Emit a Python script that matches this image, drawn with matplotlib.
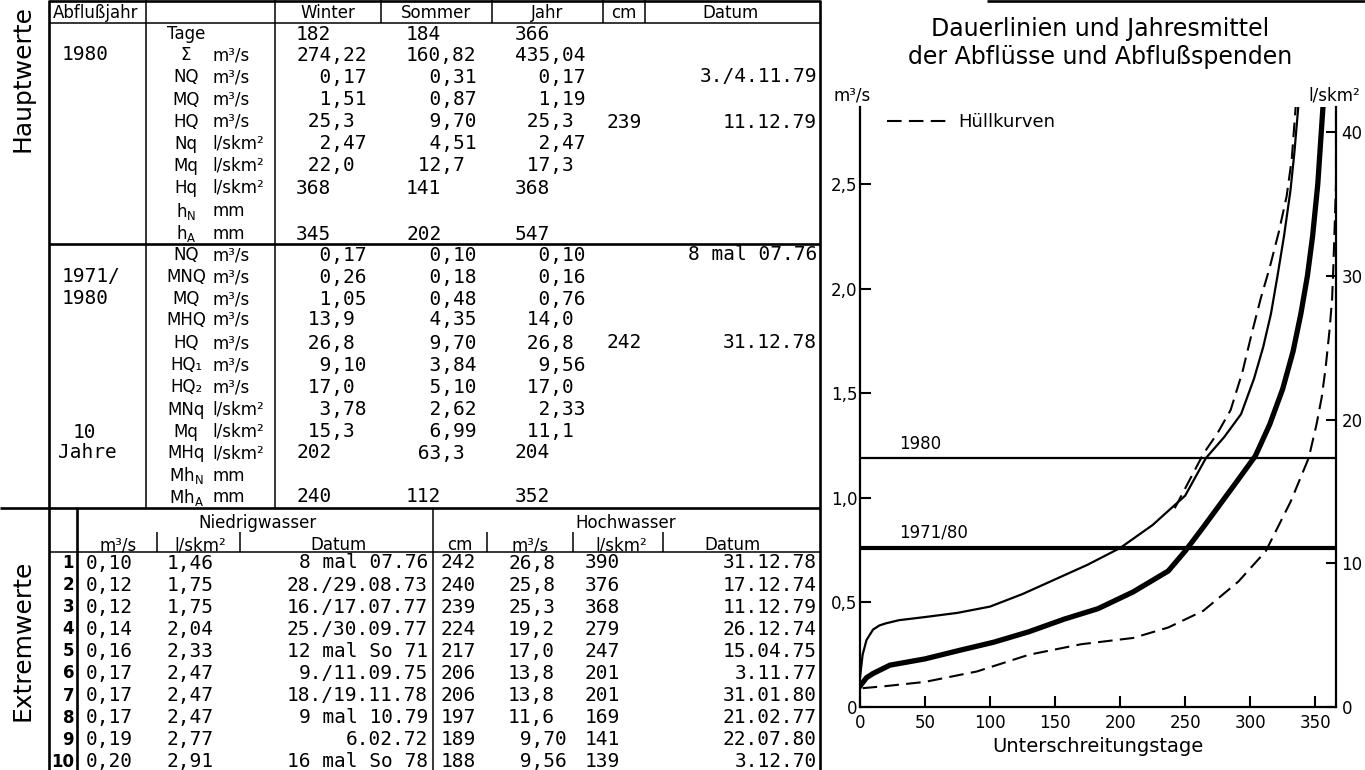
"""
Abflusstafel 1980 mit Hauptwerten, Extremwerten und Dauerlinien
(links Tabelle, rechts Dauerlinien und Jahresmittel der Abflüsse)
"""
import matplotlib
matplotlib.use('Agg')
import matplotlib.pyplot as plt
from matplotlib.lines import Line2D
from matplotlib.ticker import FuncFormatter

plt.rcParams['font.family'] = ['DejaVu Sans']
plt.rcParams['mathtext.fontset'] = 'dejavusans'
MONO = 'DejaVu Sans Mono'
MONO_SIZE = 14

# ---------------- Hauptwerte Abflußjahr 1980 ----------------
LABELS_1980 = ['Tage', 'Σ', 'NQ', 'MQ', 'HQ', 'Nq', 'Mq', 'Hq',
               r'h$_\mathregular{N}$', r'h$_\mathregular{A}$']
UNITS_1980 = ['', 'm³/s', 'm³/s', 'm³/s', 'm³/s',
              'l/skm²', 'l/skm²', 'l/skm²', 'mm', 'mm']
WINTER_1980 = ['182', '274,22', '0,17', '1,51', '25,3', '2,47', '22,0', '368', '', '345']
SOMMER_1980 = ['184', '160,82', '0,31', '0,87', '9,70', '4,51', '12,7', '141', '', '202']
JAHR_1980 = ['366', '435,04', '0,17', '1,19', '25,3', '2,47', '17,3', '368', '', '547']
CM_1980 = ['', '', '', '', '239', '', '', '', '', '']
DATUM_1980 = ['', '', '3./4.11.79', '', '11.12.79', '', '', '', '', '']

# ---------------- Hauptwerte 1971/1980 (10 Jahre) ----------------
LABELS_10J = ['NQ', 'MNQ', 'MQ', 'MHQ', 'HQ', 'HQ₁', 'HQ₂', 'MNq', 'Mq', 'MHq',
              r'Mh$_\mathregular{N}$', r'Mh$_\mathregular{A}$']
UNITS_10J = ['m³/s'] * 7 + ['l/skm²'] * 3 + ['mm', 'mm']
WINTER_10J = ['0,17', '0,26', '1,05', '13,9', '26,8', '9,10', '17,0', '3,78', '15,3', '202', '', '240']
SOMMER_10J = ['0,10', '0,18', '0,48', '4,35', '9,70', '3,84', '5,10', '2,62', '6,99', '63,3', '', '112']
JAHR_10J = ['0,10', '0,16', '0,76', '14,0', '26,8', '9,56', '17,0', '2,33', '11,1', '204', '', '352']
CM_10J = ['', '', '', '', '242', '', '', '', '', '', '', '']
DATUM_10J = ['8 mal 07.76', '', '', '', '31.12.78', '', '', '', '', '', '', '']

# ---------------- Extremwerte ----------------
RANG = ['1', '2', '3', '4', '5', '6', '7', '8', '9', '10']
NW_Q = ['0,10', '0,12', '0,12', '0,14', '0,16', '0,17', '0,17', '0,17', '0,19', '0,20']
NW_QSP = ['1,46', '1,75', '1,75', '2,04', '2,33', '2,47', '2,47', '2,47', '2,77', '2,91']
NW_DATUM = ['8 mal 07.76', '28./29.08.73', '16./17.07.77', '25./30.09.77', '12 mal So 71',
            '9./11.09.75', '18./19.11.78', '9 mal 10.79', '6.02.72', '16 mal So 78']
HW_CM = ['242', '240', '239', '224', '217', '206', '206', '197', '189', '188']
HW_Q = ['26,8', '25,8', '25,3', '19,2', '17,0', '13,8', '13,8', '11,6', '9,70', '9,56']
HW_QSP = ['390', '376', '368', '279', '247', '201', '201', '169', '141', '139']
HW_DATUM = ['31.12.78', '17.12.74', '11.12.79', '26.12.74', '15.04.75',
            '3.11.77', '31.01.80', '21.02.77', '22.07.80', '3.12.70']

# ---------------- Dauerlinien (Unterschreitungstage -> m³/s) ----------------
TAGE_1980 = [0, 2, 5, 10, 15, 20, 30, 50, 75, 100, 125, 150, 175, 200, 225, 250,
             266, 280, 293, 303, 310, 316, 321, 326, 331, 334, 337]
Q_1980 = [0.14, 0.25, 0.32, 0.37, 0.39, 0.40, 0.415, 0.43, 0.45, 0.48, 0.54, 0.61,
          0.68, 0.76, 0.87, 1.01, 1.19, 1.29, 1.40, 1.57, 1.72, 1.88, 2.06, 2.25,
          2.47, 2.65, 2.87]
TAGE_7180 = [0, 5, 10, 23, 50, 76, 103, 130, 157, 183, 210, 237, 250, 264, 277,
             290, 304, 315, 325, 333, 339, 344, 348, 352, 356]
Q_7180 = [0.10, 0.14, 0.16, 0.20, 0.23, 0.27, 0.31, 0.36, 0.42, 0.47, 0.55, 0.65,
          0.745, 0.86, 0.97, 1.08, 1.20, 1.35, 1.52, 1.70, 1.88, 2.06, 2.25,
          2.50, 2.87]
TAGE_HUELLE_U = [2, 20, 50, 90, 130, 170, 210, 237, 264, 291, 312, 331, 345, 351,
                 355, 358, 361, 363, 364, 365, 366, 366]
Q_HUELLE_U = [0.09, 0.10, 0.12, 0.17, 0.25, 0.30, 0.33, 0.38, 0.46, 0.60, 0.745,
              0.98, 1.19, 1.35, 1.48, 1.62, 1.80, 1.95, 2.11, 2.30, 2.50, 2.85]
TAGE_HUELLE_O = [242, 253, 264, 275, 285, 294, 301, 308, 315, 322, 328, 332, 335]
Q_HUELLE_O = [0.95, 1.08, 1.21, 1.31, 1.42, 1.60, 1.78, 1.95, 2.10, 2.27, 2.44,
              2.62, 2.87]

MQ_1980 = 1.19      # Jahresmittel 1980
MQ_1971_80 = 0.76   # Mittel 1971/80
FLAECHE_KM2 = 68.7  # Einzugsgebiet für l/skm²

W, H = 1365, 770


def dec(s, width=3):
    """Zahl mit Komma für Monospace-Satz ausrichten."""
    head, sep, tail = s.partition(',')
    return head.rjust(width) + sep + tail if s else ''


def draw_rules(t):
    lo, li = 1.9, 1.1

    def hl(y, x0, x1, lw):
        t.plot([x0, x1], [y, y], color='k', lw=lw, solid_capstyle='butt')

    def vl(x, y0, y1, lw):
        t.plot([x, x], [y0, y1], color='k', lw=lw, solid_capstyle='butt')

    hl(1, 49, 820, lo)
    hl(1, 987, W, lo)
    hl(23, 49, 820, li)
    hl(244, 49, 820, lo)
    hl(508, 0, 820, lo)
    hl(552, 49, 820, li)
    vl(49, 0, H, lo)
    vl(146, 0, 508, li)
    vl(275, 0, 508, li)
    for x in (381, 492, 603, 645):
        vl(x, 0, 23, li)
    vl(820, 0, H, lo)
    vl(77, 508, H, lo)
    vl(433, 508, H, li)
    for x in (157, 240, 487, 573, 663):
        vl(x, 532, 552, li)


def draw_block(t, ys, labels, units, winter, sommer, jahr, cm, datum):
    kw = dict(va='center', fontsize=MONO_SIZE, family=MONO)
    for i, y in enumerate(ys):
        t.text(186, y, labels[i], ha='center', va='center', fontsize=12)
        t.text(212, y, units[i], ha='left', va='center', fontsize=12)
        t.text(296, y, dec(winter[i]), ha='left', **kw)
        t.text(406, y, dec(sommer[i]), ha='left', **kw)
        t.text(515, y, dec(jahr[i]), ha='left', **kw)
        t.text(606, y, cm[i], ha='left', **kw)
        t.text(817, y, datum[i], ha='right', **kw)


def draw_table(t):
    draw_rules(t)
    # Kopfzeile
    t.text(53, 13, 'Abflußjahr', ha='left', va='center', fontsize=12)
    for x, s in ((328, 'Winter'), (436, 'Sommer'), (547, 'Jahr'),
                 (624, 'cm'), (731, 'Datum')):
        t.text(x, 13, s, ha='center', va='center', fontsize=12)

    mono = dict(ha='left', va='center', fontsize=MONO_SIZE, family=MONO)
    ys_1980 = [34, 55, 77, 100, 122, 144, 166, 188, 211, 234]
    t.text(62, 55, '1980', **mono)
    draw_block(t, ys_1980, LABELS_1980, UNITS_1980, WINTER_1980, SOMMER_1980,
               JAHR_1980, CM_1980, DATUM_1980)

    ys_10j = [255, 277, 299, 320, 343, 365, 387, 410, 432, 453, 476, 497]
    t.text(62, 277, '1971/', **mono)
    t.text(62, 299, '1980', **mono)
    t.text(73, 432, '10', **mono)
    t.text(58, 453, 'Jahre', **mono)
    draw_block(t, ys_10j, LABELS_10J, UNITS_10J, WINTER_10J, SOMMER_10J,
               JAHR_10J, CM_10J, DATUM_10J)

    t.text(23, 79, 'Hauptwerte', rotation=90, ha='center', va='center', fontsize=18)
    t.text(23, 640, 'Extremwerte', rotation=90, ha='center', va='center', fontsize=18)

    # Extremwerte: Kopf
    t.text(257, 523, 'Niedrigwasser', ha='center', va='center', fontsize=12)
    t.text(626, 523, 'Hochwasser', ha='center', va='center', fontsize=12)
    for x, s in ((118, 'm³/s'), (200, 'l/skm²'), (339, 'Datum'), (460, 'cm'),
                 (530, 'm³/s'), (621, 'l/skm²'), (732, 'Datum')):
        t.text(x, 545, s, ha='center', va='center', fontsize=12)

    for i in range(len(RANG)):
        y = 563 + 22.1 * i
        t.text(74, y, RANG[i], ha='right', va='center', fontsize=12, fontweight='bold')
        t.text(86, y, NW_Q[i], **mono)
        t.text(167, y, NW_QSP[i], **mono)
        t.text(428, y, NW_DATUM[i], ha='right', va='center', fontsize=MONO_SIZE, family=MONO)
        t.text(441, y, HW_CM[i], **mono)
        t.text(508, y, dec(HW_Q[i], 2), **mono)
        t.text(585, y, HW_QSP[i], **mono)
        t.text(817, y, HW_DATUM[i], ha='right', va='center', fontsize=MONO_SIZE, family=MONO)


def draw_chart(fig, t):
    ax = fig.add_axes([860 / W, 63 / H, 476 / W, 600 / H])
    dash = (0, (7, 3.5))
    ax.plot(TAGE_HUELLE_U, Q_HUELLE_U, color='k', lw=1.5, ls=dash)
    ax.plot(TAGE_HUELLE_O, Q_HUELLE_O, color='k', lw=1.5, ls=dash)
    ax.plot(TAGE_1980, Q_1980, color='k', lw=1.6, solid_joinstyle='round')
    ax.plot(TAGE_7180, Q_7180, color='k', lw=3.8, solid_joinstyle='round')
    ax.axhline(MQ_1980, color='k', lw=1.6)
    ax.axhline(MQ_1971_80, color='k', lw=3.0)
    ax.text(30, MQ_1980 + 0.025, '1980', ha='left', va='bottom', fontsize=12)
    ax.text(30, MQ_1971_80 + 0.03, '1971/80', ha='left', va='bottom', fontsize=12)

    ax.set_xlim(0, 366)
    ax.set_ylim(0, 2.868)
    ax.set_xticks(range(0, 351, 50))
    ax.set_yticks([0, 0.5, 1.0, 1.5, 2.0, 2.5])
    ax.yaxis.set_major_formatter(
        FuncFormatter(lambda v, p: '0' if v == 0 else f'{v:.1f}'.replace('.', ',')))
    ax.tick_params(direction='in', length=8, width=1.5, labelsize=12)
    ax.tick_params(axis='y', pad=2)
    ax.tick_params(axis='x', pad=5)
    for side in ('top', 'right'):
        ax.spines[side].set_visible(False)
    for side in ('left', 'bottom'):
        ax.spines[side].set_linewidth(1.6)
    ax.set_xlabel('Unterschreitungstage', fontsize=14, labelpad=4)

    sec = ax.secondary_yaxis('right', functions=(lambda q: q * 1000 / FLAECHE_KM2,
                                                 lambda s: s * FLAECHE_KM2 / 1000))
    sec.set_yticks([0, 10, 20, 30, 40])
    sec.tick_params(direction='in', length=7, width=1.5, labelsize=12, pad=4)
    sec.spines['right'].set_linewidth(1.6)

    handle = Line2D([], [], color='k', lw=1.5, ls=dash)
    ax.legend([handle], ['Hüllkurven'], loc='center left', bbox_to_anchor=(0.057, 0.975),
              frameon=False, borderpad=0, borderaxespad=0, handlelength=3.4,
              handletextpad=0.55, fontsize=13)

    t.text(1100, 29, 'Dauerlinien und Jahresmittel', ha='center', va='center', fontsize=17)
    t.text(1100, 57, 'der Abflüsse und Abflußspenden', ha='center', va='center', fontsize=17)
    t.text(852, 95, 'm³/s', ha='center', va='center', fontsize=12)
    t.text(1334, 96, 'l/skm²', ha='center', va='center', fontsize=12)


def main():
    fig = plt.figure(figsize=(W / 100, H / 100), dpi=100)
    tab = fig.add_axes([0, 0, 1, 1])
    tab.set_xlim(0, W)
    tab.set_ylim(H, 0)
    tab.axis('off')
    draw_table(tab)
    draw_chart(fig, tab)
    fig.savefig('out.png', dpi=100)


if __name__ == '__main__':
    main()
